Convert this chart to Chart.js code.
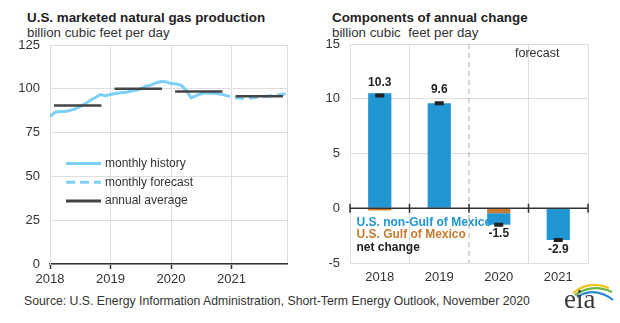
<!DOCTYPE html>
<html>
<head>
<meta charset="utf-8">
<script src="https://cdn.jsdelivr.net/npm/chart.js@4.4.0/dist/chart.umd.min.js"></script>
<style>
  body { margin: 0; background: #fff; font-family: "Liberation Sans", Arial, sans-serif; color: #222; }
  #wrap { position: relative; width: 620px; height: 323px; overflow: hidden; }
  .title { position: absolute; font-weight: bold; font-size: 13.4px; line-height: 15px; color: #222; white-space: pre; }
  .sub { position: absolute; font-size: 13.3px; line-height: 15px; color: #333; white-space: pre; }
  canvas { position: absolute; top: 0; }
  #source { position: absolute; left: 24px; top: 294px; font-size: 12.25px; line-height: 15px; color: #333; white-space: pre; }
  #logo { position: absolute; left: 555px; top: 278px; }
</style>
</head>
<body>
<div id="wrap">
  <div class="title" style="left:27px; top:10px;">U.S. marketed natural gas production</div>
  <div class="sub" style="left:27px; top:25px;">billion cubic feet per day</div>
  <div class="title" style="left:332px; top:10px;">Components of annual change</div>
  <div class="sub" style="left:332px; top:25px;">billion cubic  feet per day</div>
  <canvas id="prod" width="310" height="290" style="left:0px;"></canvas>
  <canvas id="change" width="310" height="290" style="left:310px;"></canvas>
  <div id="source">Source: U.S. Energy Information Administration, Short-Term Energy Outlook, November 2020</div>
  <svg id="logo" width="62" height="40" viewBox="0 0 62 40">
    <path d="M18 15 Q34 2 54 10" fill="none" stroke="#f2c31b" stroke-width="2.2"/>
    <path d="M20 17 Q37 5 57 14" fill="none" stroke="#6cb33f" stroke-width="2.2"/>
    <path d="M22 19 Q40 8 58 22" fill="none" stroke="#2a8bd4" stroke-width="2.2"/>
    <text x="9" y="30" font-family="Liberation Serif, serif" font-size="27" fill="#3a3a3a">eia</text>
  </svg>
</div>

<script>
// left panel data (billion cubic feet per day), months from Jan 2018
const years = ['2018', '2019', '2020', '2021'];
const historyValues = [
  84.3, 86.6, 87.1, 87.0, 87.7, 88.5, 90.0, 91.5, 93.5, 95.0, 96.7, 96.1,
  96.7, 97.3, 97.7, 98.0, 98.6, 99.2, 100.0, 101.5, 102.1, 103.4, 104.2, 104.0,
  103.0, 102.7, 102.1, 99.2, 94.8, 96.1, 97.3, 97.7, 97.5, 97.3, 96.9
];
const forecastStart = 34; // Nov 2020
const forecastValues = [96.9, 96.1, 95.4, 94.8, 94.6, 94.6, 94.8, 95.2, 95.4, 95.8, 96.0, 96.3, 96.9, 97.1];
const annualAverage = [90.4, 100.0, 98.5, 95.8];
const leftLegend = ['monthly history', 'monthly forecast', 'annual average'];

// right panel data
const gulfChange = [-0.2, 0.0, -0.45, 0.0];
const nonGulfChange = [10.5, 9.6, -1.05, -2.9];
const netChange = [10.3, 9.6, -1.5, -2.9];
const rightLegend = ['U.S. non-Gulf of Mexico', 'U.S. Gulf of Mexico', 'net change'];
const forecastLabel = 'forecast';

const FONT = '"Liberation Sans", Arial, sans-serif';
const lightBlue = '#7dd0f5';
const barBlue = '#2196d3';
const barOrange = '#c97a2f';

Chart.defaults.font.family = FONT;
Chart.defaults.color = '#333';

const histPoints = historyValues.map((v, i) => ({ x: i, y: v }));
const fcstPoints = forecastValues.map((v, i) => ({ x: forecastStart + i, y: v }));
const avgPoints = [];
annualAverage.forEach((v, k) => {
  avgPoints.push({ x: k * 12 + 0.8, y: v }, { x: k * 12 + 10.2, y: v }, { x: k * 12 + 11, y: null });
});

// legend drawn inside the plot area
const prodLegend = {
  id: 'prodLegend',
  afterDraw(chart) {
    const ctx = chart.ctx;
    const a = chart.chartArea;
    ctx.save();
    ctx.font = '12px ' + FONT;
    ctx.textBaseline = 'middle';
    leftLegend.forEach((txt, i) => {
      const ds = chart.data.datasets.find(d => d.label === txt);
      const y = a.top + 118.5 + i * 18.7;
      ctx.strokeStyle = ds.borderColor;
      ctx.lineWidth = 3;
      ctx.setLineDash(ds.borderDash || []);
      ctx.beginPath();
      ctx.moveTo(a.left + 16, y);
      ctx.lineTo(a.left + 51, y);
      ctx.stroke();
      ctx.setLineDash([]);
      ctx.fillStyle = '#333';
      ctx.fillText(txt, a.left + 55, y);
    });
    ctx.restore();
  }
};

new Chart(document.getElementById('prod'), {
  type: 'line',
  data: {
    datasets: [
      { label: 'annual average', data: avgPoints, borderColor: '#444', borderWidth: 2.5, pointRadius: 0, spanGaps: false },
      { label: 'monthly history', data: histPoints, borderColor: lightBlue, borderWidth: 3, pointRadius: 0 },
      { label: 'monthly forecast', data: fcstPoints, borderColor: lightBlue, borderWidth: 3, borderDash: [9, 5], pointRadius: 0 }
    ]
  },
  options: {
    responsive: false,
    animation: false,
    events: [],
    layout: { padding: { top: 45, right: 23, left: 0, bottom: 0 } },
    plugins: { legend: { display: false }, tooltip: { enabled: false } },
    scales: {
      x: {
        type: 'linear', min: 0, max: 47,
        afterBuildTicks: s => { s.ticks = [0, 12, 24, 36, 47].map(v => ({ value: v })); },
        afterFit: s => { s.height = 26; },
        ticks: { callback: v => years[v / 12] || '', font: { size: 13 }, color: '#333', maxRotation: 0, autoSkip: false, padding: 3 },
        grid: {
          color: '#ddd',
          tickColor: c => (c.tick && c.tick.value === 47) ? 'rgba(0,0,0,0)' : '#333',
          tickLength: 5, tickWidth: 1.5
        },
        border: { color: '#333', width: 1.5 }
      },
      y: {
        min: 0, max: 125,
        afterFit: s => { s.width = 50; },
        ticks: { stepSize: 25, font: { size: 13 }, color: '#333', padding: 10 },
        grid: { color: '#ddd', drawTicks: false },
        border: { color: '#ddd' }
      }
    }
  },
  plugins: [prodLegend]
});

// zero line with ticks, forecast divider, value labels, inline legend
const changeDecor = {
  id: 'changeDecor',
  beforeDatasetsDraw(chart) {
    const ctx = chart.ctx;
    const a = chart.chartArea;
    const colors = [barBlue, barOrange, '#222'];
    ctx.save();
    ctx.font = 'bold 12px ' + FONT;
    ctx.textBaseline = 'middle';
    rightLegend.forEach((txt, i) => {
      ctx.fillStyle = colors[i];
      ctx.fillText(txt, a.left + 6.5, a.top + 178.5 + i * 12.6);
    });
    const xs = chart.scales.x;
    const xd = xs.getPixelForValue(1.5);
    ctx.strokeStyle = '#aaa';
    ctx.lineWidth = 1;
    ctx.setLineDash([5, 4]);
    ctx.beginPath();
    ctx.moveTo(xd, a.top);
    ctx.lineTo(xd, a.bottom);
    ctx.stroke();
    ctx.setLineDash([]);
    ctx.font = '12.5px ' + FONT;
    ctx.fillStyle = '#333';
    ctx.fillText(forecastLabel, xd + 46, a.top + 10);
    ctx.restore();
  },
  afterDatasetsDraw(chart) {
    const ctx = chart.ctx;
    const a = chart.chartArea;
    const xs = chart.scales.x;
    const y0 = chart.scales.y.getPixelForValue(0);
    ctx.save();
    ctx.strokeStyle = '#333';
    ctx.lineWidth = 1.5;
    ctx.beginPath();
    ctx.moveTo(a.left, y0);
    ctx.lineTo(a.right, y0);
    for (let i = 0; i <= years.length; i++) {
      const x = xs.getPixelForValue(i - 0.5);
      ctx.moveTo(x, y0 - 4.5);
      ctx.lineTo(x, y0 + 4.5);
    }
    ctx.stroke();
    // net change labels
    const meta = chart.getDatasetMeta(0);
    ctx.font = 'bold 12px ' + FONT;
    ctx.textAlign = 'center';
    ctx.textBaseline = 'middle';
    meta.data.forEach((pt, i) => {
      const v = netChange[i];
      ctx.fillStyle = '#222';
      ctx.fillText(v.toFixed(1), pt.x, v > 0 ? pt.y - 13 : pt.y + 9.5);
    });
    ctx.restore();
  }
};

new Chart(document.getElementById('change'), {
  type: 'bar',
  data: {
    labels: years,
    datasets: [
      {
        type: 'line', label: 'net change', data: netChange, stack: 'net', order: 0,
        showLine: false, pointStyle: 'line', pointRadius: 4.5, pointBorderWidth: 4,
        borderColor: '#222', backgroundColor: '#222'
      },
      { label: 'U.S. Gulf of Mexico', data: gulfChange, backgroundColor: barOrange, stack: 'comp', order: 1 },
      { label: 'U.S. non-Gulf of Mexico', data: nonGulfChange, backgroundColor: barBlue, stack: 'comp', order: 1 }
    ]
  },
  options: {
    responsive: false,
    animation: false,
    events: [],
    layout: { padding: { top: 44, right: 32, left: 0, bottom: 0 } },
    plugins: { legend: { display: false }, tooltip: { enabled: false } },
    datasets: { bar: { barPercentage: 0.39, categoryPercentage: 1 } },
    scales: {
      x: {
        stacked: true,
        afterFit: s => { s.height = 27; },
        ticks: { font: { size: 13 }, color: '#333', padding: 7, maxRotation: 0 },
        grid: { color: c => c.index === 2 ? 'rgba(0,0,0,0)' : '#ddd', drawTicks: false },
        border: { color: '#ddd' }
      },
      y: {
        stacked: true, min: -5, max: 15,
        afterFit: s => { s.width = 40; },
        ticks: { stepSize: 5, font: { size: 13 }, color: '#333', padding: 10 },
        grid: { color: '#ddd', drawTicks: false },
        border: { color: '#ddd' }
      }
    }
  },
  plugins: [changeDecor]
});
</script>
</body>
</html>
